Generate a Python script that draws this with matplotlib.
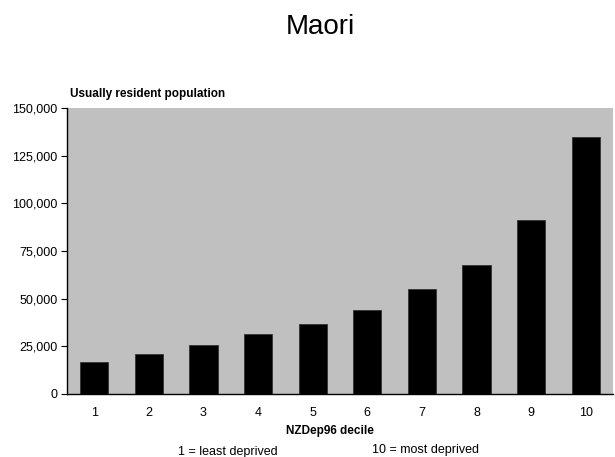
#!/usr/bin/env python3
"""Usually resident Maori population by NZDep96 decile."""

import matplotlib
matplotlib.use("Agg")
import matplotlib.pyplot as plt
from matplotlib.ticker import FuncFormatter

plt.rcParams["font.family"] = ["Liberation Sans", "DejaVu Sans"]

deciles = [1, 2, 3, 4, 5, 6, 7, 8, 9, 10]
population = [16800, 21000, 25500, 31300, 36500, 44000, 54900, 67600, 91400, 134800]
y_ticks = [0, 25000, 50000, 75000, 100000, 125000, 150000]

C_BG = "#c0c0c0"
C_BAR = "#000000"

W, H = 615, 457
fig = plt.figure(figsize=(W / 100, H / 100), dpi=100)
ax = fig.add_axes([67 / W, (H - 394) / H, (613 - 67) / W, (394 - 108) / H])
ax.set_facecolor(C_BG)

ax.bar(deciles, population, width=0.52, color=C_BAR, edgecolor="#333333", lw=0.6)

ax.set_xlim(0.5, 10.5)
ax.set_ylim(0, 150000)
ax.set_yticks(y_ticks)
ax.yaxis.set_major_formatter(FuncFormatter(lambda v, _: f"{int(v):,}"))
ax.set_xticks(deciles)

ax.tick_params(axis="y", direction="out", length=4, width=0.8, labelsize=9, pad=3)
ax.tick_params(axis="x", length=0, labelsize=9, pad=9)

for side in ("top", "right"):
    ax.spines[side].set_visible(False)
for side in ("left", "bottom"):
    ax.spines[side].set_linewidth(1.0)
    ax.spines[side].set_color("black")

fig.text(320 / W, 1 - 27 / H, "Maori", fontsize=20, ha="center", va="center")
fig.text(70 / W, 1 - 94 / H, "Usually resident population", fontsize=8.5,
         fontweight="bold", ha="left", va="center")
fig.text(330 / W, 1 - 431 / H, "NZDep96 decile", fontsize=8.5,
         fontweight="bold", ha="center", va="center")
fig.text(228 / W, 1 - 452 / H, "1 = least deprived", fontsize=9,
         ha="center", va="center")
fig.text(426 / W, 1 - 450 / H, "10 = most deprived", fontsize=9,
         ha="center", va="center")

fig.savefig("out.png", dpi=100)
plt.close(fig)
